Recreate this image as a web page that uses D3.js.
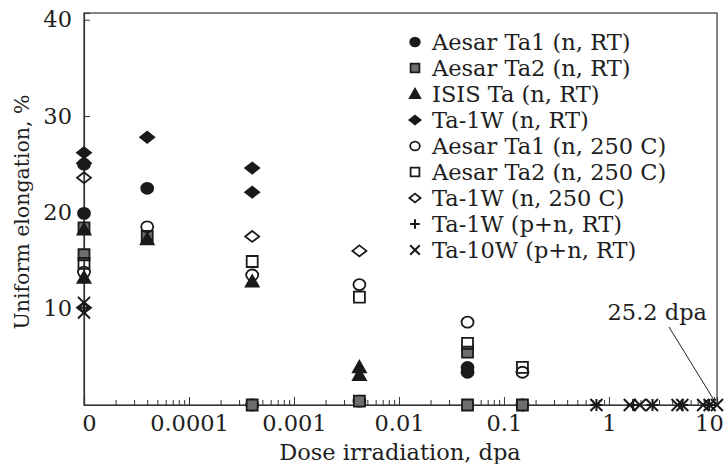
<!DOCTYPE html>
<html>
<head>
<meta charset="utf-8">
<script src="https://cdn.jsdelivr.net/npm/d3@7"></script>
<style>
  body { margin: 0; background: #fff; }
  text { font-family: "DejaVu Serif", serif; fill: #1e1e1e; }
</style>
</head>
<body>
<script>
// Unirradiated specimens sit at the left edge (labelled "0")
const ZERO_DOSE = 1e-5;

// Series: dose (dpa) and uniform elongation (%)
const aesarTa1RT_dose = [ZERO_DOSE, ZERO_DOSE, 4e-5, 4e-4, 0.0042, 0.045, 0.045, 0.15];
const aesarTa1RT_ue   = [25.0, 19.9, 22.5, 0.0, 0.4, 3.9, 3.4, 0.0];

const aesarTa2RT_dose = [ZERO_DOSE, ZERO_DOSE, 4e-5, 4e-4, 0.0042, 0.045, 0.045, 0.15];
const aesarTa2RT_ue   = [18.4, 15.6, 17.5, 0.0, 0.4, 5.5, 0.0, 0.0];

const isisTaRT_dose = [ZERO_DOSE, ZERO_DOSE, 4e-5, 4e-4, 0.0042, 0.0042];
const isisTaRT_ue   = [18.2, 13.2, 17.2, 12.8, 3.9, 3.1];

const ta1wRT_dose = [ZERO_DOSE, ZERO_DOSE, 4e-5, 4e-4, 4e-4];
const ta1wRT_ue   = [26.2, 25.1, 27.8, 24.6, 22.1];

const aesarTa1HT_dose = [ZERO_DOSE, 4e-5, 4e-4, 0.0042, 0.045, 0.15];
const aesarTa1HT_ue   = [13.8, 18.5, 13.5, 12.5, 8.6, 3.4];

const aesarTa2HT_dose = [ZERO_DOSE, 4e-4, 0.0042, 0.045, 0.15];
const aesarTa2HT_ue   = [14.7, 14.9, 11.2, 6.4, 3.9];

const ta1wHT_dose = [ZERO_DOSE, ZERO_DOSE, 4e-4, 0.0042];
const ta1wHT_ue   = [23.6, 10.1, 17.5, 16.0];

const ta1wPN_dose = [ZERO_DOSE, 0.76, 1.7, 2.6, 5.0, 9.0];
const ta1wPN_ue   = [10.1, 0, 0, 0, 0, 0];

const ta10wPN_dose = [ZERO_DOSE, ZERO_DOSE, 0.76, 1.58, 1.97, 2.57, 4.5, 5.0, 7.9, 9.1, 25.2];
const ta10wPN_ue   = [10.6, 9.6, 0, 0, 0, 0, 0, 0, 0, 0, 0];

const legendLabels = [
  "Aesar Ta1 (n, RT)", "Aesar Ta2 (n, RT)", "ISIS Ta (n, RT)", "Ta-1W (n, RT)",
  "Aesar Ta1 (n, 250 C)", "Aesar Ta2 (n, 250 C)", "Ta-1W (n, 250 C)",
  "Ta-1W (p+n, RT)", "Ta-10W (p+n, RT)"
];

const xMajorTicks = [1e-5, 1e-4, 1e-3, 1e-2, 0.1, 1, 10];
const xTickLabels = ["0", "0.0001", "0.001", "0.01", "0.1", "1", "10"];
const yTicks = [10, 20, 30, 40];

const series = [
  { dose: aesarTa1RT_dose, ue: aesarTa1RT_ue, shape: "circle",   fill: "#1a1a1a" },
  { dose: aesarTa2RT_dose, ue: aesarTa2RT_ue, shape: "square",   fill: "#6e6e6e" },
  { dose: isisTaRT_dose,   ue: isisTaRT_ue,   shape: "triangle", fill: "#1a1a1a" },
  { dose: ta1wRT_dose,     ue: ta1wRT_ue,     shape: "diamond",  fill: "#1a1a1a" },
  { dose: aesarTa1HT_dose, ue: aesarTa1HT_ue, shape: "circle",   fill: "none" },
  { dose: aesarTa2HT_dose, ue: aesarTa2HT_ue, shape: "square",   fill: "none" },
  { dose: ta1wHT_dose,     ue: ta1wHT_ue,     shape: "diamond",  fill: "none" },
  { dose: ta1wPN_dose,     ue: ta1wPN_ue,     shape: "plus",     fill: "none" },
  { dose: ta10wPN_dose,    ue: ta10wPN_ue,    shape: "times",    fill: "none" }
];

const width = 726, height = 464;
const plot = { left: 84, right: 717, top: 13, bottom: 405 };
const fontSize = 22.5;

const svg = d3.select("body").append("svg")
    .attr("width", width)
    .attr("height", height);

// Log dose axis; anything past the right edge is pinned to it
const x = d3.scaleLog()
    .domain([1e-5, 10.7])
    .range([plot.left, plot.right])
    .clamp(true);

const y = d3.scaleLinear()
    .domain([0, 40.7])
    .range([plot.bottom, plot.top]);

// Marker outlines, centred on 0,0
const markerPath = (shape, s) => {
  switch (shape) {
    case "circle": {
      const rx = 6 * s, ry = 5.5 * s;
      return `M${-rx},0A${rx},${ry} 0 1,1 ${rx},0A${rx},${ry} 0 1,1 ${-rx},0Z`;
    }
    case "square": {
      const h = 5.5 * s;
      return `M${-h},${-h}H${h}V${h}H${-h}Z`;
    }
    case "triangle": {
      const w = 6.5 * s, t = 6.5 * s, b = 5 * s;
      return `M0,${-t}L${w},${b}L${-w},${b}Z`;
    }
    case "diamond": {
      const w = 7 * s, h = 5.5 * s;
      return `M0,${-h}L${w},0L0,${h}L${-w},0Z`;
    }
    case "plus": {
      const h = 6 * s;
      return `M${-h},0H${h}M0,${-h}V${h}`;
    }
    case "times": {
      const h = 6 * s;
      return `M${-h},${-h}L${h},${h}M${h},${-h}L${-h},${h}`;
    }
  }
};

const strokeFor = (shape) => (shape === "plus" || shape === "times") ? 2 : 1.8;

// Frame
svg.append("rect")
    .attr("x", plot.left)
    .attr("y", plot.top)
    .attr("width", plot.right - plot.left)
    .attr("height", plot.bottom - plot.top)
    .attr("fill", "none")
    .attr("stroke", "#333")
    .attr("stroke-width", 1.2);

// Minor x ticks (2..9 in each decade)
const xMinor = [];
xMajorTicks.slice(0, -1).forEach((d) => {
  for (let k = 2; k <= 9; k++) xMinor.push(d * k);
});

svg.append("g")
    .attr("transform", `translate(0,${plot.bottom})`)
    .call(d3.axisBottom(x).tickValues(xMinor).tickSize(-5).tickFormat(""))
    .call((g) => g.select(".domain").remove())
    .call((g) => g.selectAll("line").attr("stroke", "#333"));

svg.append("g")
    .attr("transform", `translate(0,${plot.bottom})`)
    .call(d3.axisBottom(x)
      .tickValues(xMajorTicks)
      .tickSize(-8)
      .tickPadding(10)
      .tickFormat((d, i) => xTickLabels[i]))
    .call((g) => g.select(".domain").attr("stroke", "#333").attr("stroke-width", 1.2))
    .call((g) => g.selectAll("line").attr("stroke", "#333"))
    .call((g) => g.selectAll("text")
      .attr("font-family", "DejaVu Serif")
      .attr("font-size", fontSize)
      .attr("fill", "#1e1e1e")
      // end labels nudged inward so they stay on the page
      .attr("dx", (d, i) => i === 0 ? 5 : (i === xMajorTicks.length - 1 ? -5 : 0)));

svg.append("g")
    .attr("transform", `translate(${plot.left},0)`)
    .call(d3.axisLeft(y).tickValues(yTicks).tickSize(-6).tickPadding(12))
    .call((g) => g.select(".domain").attr("stroke", "#333").attr("stroke-width", 1.2))
    .call((g) => g.selectAll("line").attr("stroke", "#333"))
    .call((g) => g.selectAll("text")
      .attr("font-family", "DejaVu Serif")
      .attr("font-size", fontSize)
      .attr("fill", "#1e1e1e"));

// Axis titles
svg.append("text")
    .attr("x", 400)
    .attr("y", 460)
    .attr("text-anchor", "middle")
    .attr("font-size", fontSize)
    .text("Dose irradiation, dpa");

svg.append("text")
    .attr("transform", "translate(29,212) rotate(-90)")
    .attr("text-anchor", "middle")
    .attr("font-size", 20.5)
    .text("Uniform elongation, %");

// Data points
series.forEach((s) => {
  const pts = s.dose.map((d, i) => ({ dose: d, ue: s.ue[i] }));
  svg.append("g")
    .selectAll("path")
    .data(pts)
    .join("path")
      .attr("transform", (d) => `translate(${x(d.dose)},${y(d.ue)})`)
      .attr("d", markerPath(s.shape, 1))
      .attr("fill", s.fill === "none" ? "#fff" : s.fill)
      .attr("fill-opacity", s.fill === "none" ? 0 : 1)
      .attr("stroke", "#1a1a1a")
      .attr("stroke-width", strokeFor(s.shape));
});

// Highest-dose point annotation
const lastDose = ta10wPN_dose[ta10wPN_dose.length - 1];
const lastUe = ta10wPN_ue[ta10wPN_ue.length - 1];
svg.append("line")
    .attr("x1", 669)
    .attr("y1", 327)
    .attr("x2", x(lastDose))
    .attr("y2", y(lastUe))
    .attr("stroke", "#222")
    .attr("stroke-width", 1);

svg.append("text")
    .attr("x", 707)
    .attr("y", 320)
    .attr("text-anchor", "end")
    .attr("font-size", fontSize)
    .text(`${lastDose} dpa`);

// Legend
const legend = svg.append("g").attr("transform", "translate(415,42)");
legendLabels.forEach((label, i) => {
  const s = series[i];
  const row = legend.append("g").attr("transform", `translate(0,${i * 26})`);
  row.append("path")
      .attr("d", markerPath(s.shape, 0.8))
      .attr("fill", s.fill === "none" ? "#fff" : s.fill)
      .attr("fill-opacity", s.fill === "none" ? 0 : 1)
      .attr("stroke", "#1a1a1a")
      .attr("stroke-width", strokeFor(s.shape));
  row.append("text")
      .attr("x", 17)
      .attr("dy", "0.35em")
      .attr("font-size", fontSize)
      .text(label);
});
</script>
</body>
</html>
